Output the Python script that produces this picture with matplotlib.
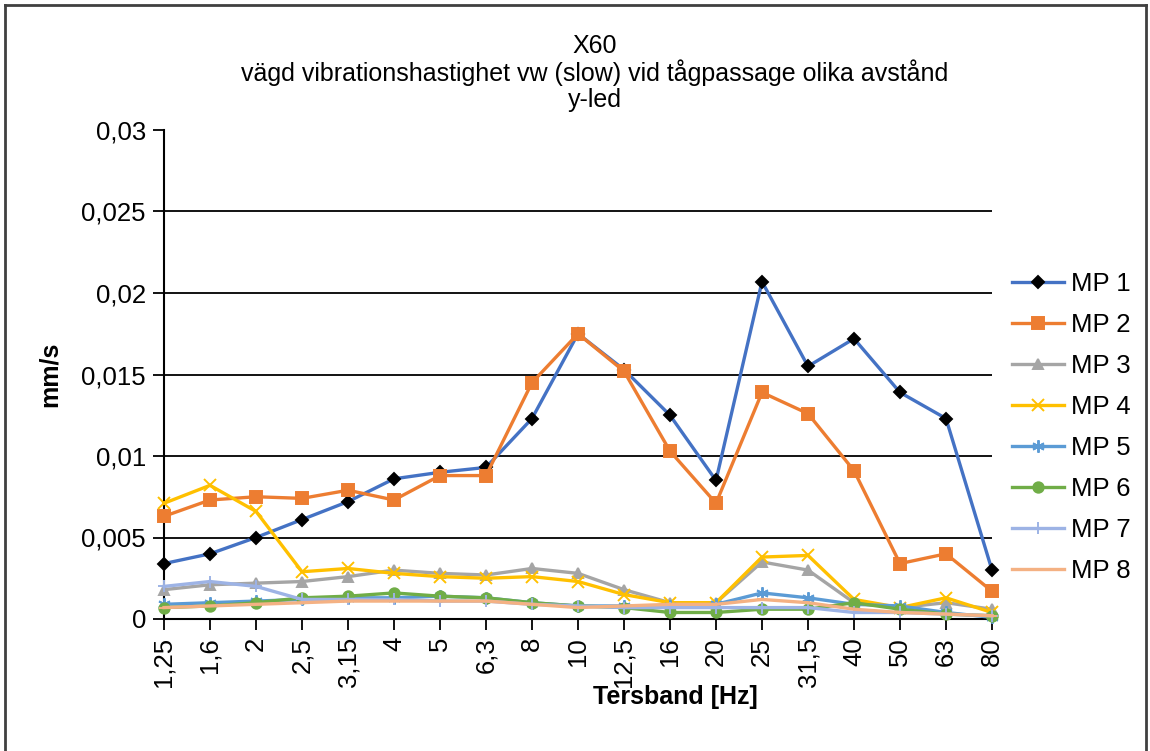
import matplotlib
matplotlib.use("Agg")
import matplotlib.pyplot as plt
from matplotlib.lines import Line2D

plt.rcParams['font.family'] = ['Liberation Sans', 'DejaVu Sans']

# Tersband (Hz)
frekvens = ['1,25', '1,6', '2', '2,5', '3,15', '4', '5', '6,3', '8', '10',
            '12,5', '16', '20', '25', '31,5', '40', '50', '63', '80']

# vägd vibrationshastighet, mm/s
mp1 = [0.0034, 0.0040, 0.0050, 0.0061, 0.0072, 0.0086, 0.0090, 0.0093, 0.0123, 0.0175,
       0.0153, 0.0125, 0.0085, 0.0207, 0.0155, 0.0172, 0.0139, 0.0123, 0.0030]
mp2 = [0.0063, 0.0073, 0.0075, 0.0074, 0.0079, 0.0073, 0.0088, 0.0088, 0.0145, 0.0175,
       0.0152, 0.0103, 0.0071, 0.0139, 0.0126, 0.0091, 0.0034, 0.0040, 0.0017]
mp3 = [0.0018, 0.0021, 0.0022, 0.0023, 0.0026, 0.0030, 0.0028, 0.0027, 0.0031, 0.0028,
       0.0018, 0.0010, 0.0010, 0.0035, 0.0030, 0.0010, 0.0007, 0.0010, 0.0006]
mp4 = [0.0071, 0.0082, 0.0066, 0.0029, 0.0031, 0.0028, 0.0026, 0.0025, 0.0026, 0.0023,
       0.0015, 0.0010, 0.0010, 0.0038, 0.0039, 0.0012, 0.0007, 0.0013, 0.0004]
mp5 = [0.0009, 0.0010, 0.0011, 0.0012, 0.0013, 0.0013, 0.0014, 0.0013, 0.0010, 0.0008,
       0.0008, 0.0008, 0.0009, 0.0016, 0.0013, 0.0009, 0.0008, 0.0004, 0.0001]
mp6 = [0.0007, 0.0008, 0.0010, 0.0013, 0.0014, 0.0016, 0.0014, 0.0013, 0.0010, 0.0008,
       0.0007, 0.0004, 0.0004, 0.0006, 0.0006, 0.0010, 0.0006, 0.0003, 0.0002]
mp7 = [0.0020, 0.0023, 0.0020, 0.0012, 0.0012, 0.0012, 0.0011, 0.0011, 0.0009, 0.0008,
       0.0007, 0.0007, 0.0007, 0.0007, 0.0007, 0.0004, 0.0004, 0.0003, 0.0002]
mp8 = [0.0007, 0.0008, 0.0009, 0.0010, 0.0011, 0.0011, 0.0011, 0.0011, 0.0009, 0.0007,
       0.0008, 0.0009, 0.0009, 0.0012, 0.0010, 0.0006, 0.0004, 0.0003, 0.0002]

serier = [
    ('MP 1', mp1, '#4472C4', 'D', 'black', 6.5),
    ('MP 2', mp2, '#ED7D31', 's', '#ED7D31', 8.5),
    ('MP 3', mp3, '#A5A5A5', '^', '#A5A5A5', 7.5),
    ('MP 4', mp4, '#FFC000', 'x', '#FFC000', 8.5),
    ('MP 5', mp5, '#5B9BD5', (6, 2, 0), '#5B9BD5', 9),
    ('MP 6', mp6, '#70AD47', 'o', '#70AD47', 7.5),
    ('MP 7', mp7, '#9DB3E5', '+', '#9DB3E5', 9),
    ('MP 8', mp8, '#F4B183', '_', '#F4B183', 7),
]

fig = plt.figure(figsize=(11.5, 7.51), dpi=100)
ax = fig.add_axes([164 / 1150, 1 - 619 / 751, 828 / 1150, 489 / 751])

x = list(range(len(frekvens)))
for namn, v, farg, mark, mfarg, ms in serier:
    ax.plot(x, v, color=farg, lw=2.4, marker=mark, markersize=ms,
            markerfacecolor=mfarg, markeredgecolor=mfarg, markeredgewidth=1.4,
            label=namn, clip_on=False, zorder=3)

# stödlinjer
for g in [0.005, 0.01, 0.015, 0.02, 0.025]:
    ax.axhline(g, color='black', lw=1.3, zorder=1)

ax.set_xlim(0, 18)
ax.set_ylim(0, 0.03)
ax.set_yticks([0, 0.005, 0.01, 0.015, 0.02, 0.025, 0.03])
ax.set_yticklabels(['0', '0,005', '0,01', '0,015', '0,02', '0,025', '0,03'])
ax.set_xticks(x)
ax.set_xticklabels(frekvens, rotation=90, va='top')
ax.tick_params(axis='both', labelsize=18.5, length=8, width=1.3, color='black', pad=5)
for s in ['top', 'right']:
    ax.spines[s].set_visible(False)
for s in ['left', 'bottom']:
    ax.spines[s].set_linewidth(1.5)

ax.set_ylabel('mm/s', fontsize=18, fontweight='bold')
ax.yaxis.set_label_coords(-0.138, 0.5)
ax.set_xlabel('Tersband [Hz]', fontsize=18, fontweight='bold')
ax.xaxis.set_label_coords(0.617, -0.1595)
ax.xaxis.label.set_va('center')
ax.yaxis.label.set_va('center')

fig.text(595 / 1150, 1 - 73 / 751, 'X60\nvägd vibrationshastighet vw (slow) vid tågpassage olika avstånd\ny-led',
         ha='center', va='center', fontsize=18, linespacing=1.1)

leg = ax.legend(loc='upper left', frameon=False, fontsize=18.5, handlelength=2.0,
                handletextpad=0.3, labelspacing=0.66, borderaxespad=0)
leg.set_bbox_to_anchor((1002 / 1150, 1 - 262 / 751), transform=fig.transFigure)

# ram runt diagrammet
fig.add_artist(Line2D([5 / 1150, 5 / 1150], [0, 1 - 5 / 751], color='#404040', lw=2, transform=fig.transFigure))
fig.add_artist(Line2D([5 / 1150, 1146 / 1150], [1 - 5 / 751, 1 - 5 / 751], color='#404040', lw=2, transform=fig.transFigure))
fig.add_artist(Line2D([1146 / 1150, 1146 / 1150], [0, 1 - 5 / 751], color='#404040', lw=2, transform=fig.transFigure))

fig.savefig('out.png', dpi=100)
